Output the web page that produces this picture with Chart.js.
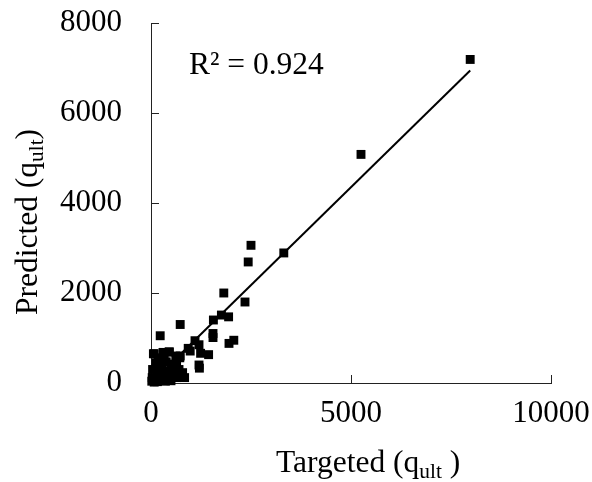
<!DOCTYPE html>
<html>
<head>
<meta charset="utf-8">
<script src="https://cdn.jsdelivr.net/npm/chart.js@4.4.0/dist/chart.umd.min.js"></script>
<style>
  html, body { margin: 0; padding: 0; background: #fff; }
  #wrap { width: 592px; height: 482px; }
</style>
</head>
<body>
<div id="wrap"><canvas id="fitChart" width="592" height="482"></canvas></div>
<script>
// measured vs model bearing capacity
const targeted = [
    7980, 5250, 3320, 2500, 2430, 2350, 1820, 1760, 1560, 1940,
    730, 230, 1100, 1550, 1550, 1950, 2070, 1200, 930, 980,
    1240, 1440, 1200, 1210, 730, 460, 80, 330, 790,
    60, 180, 300, 450, 620, 720, 120, 250, 380, 520,
    640, 40, 150, 280, 420, 560, 700, 30, 100, 200,
    320, 450, 580, 650, 20, 80, 160, 260, 360, 500, 840
];
const predicted = [
    7190, 5080, 2890, 3060, 2690, 1800, 2000, 1510, 1400, 1470,
    1300, 1050, 940, 1100, 1010, 880, 950, 850, 770, 710,
    660, 630, 400, 330, 600, 690, 650, 580, 230,
    650, 560, 680, 690, 600, 560, 450, 400, 470, 420,
    380, 300, 250, 300, 250, 280, 300, 120, 80, 150,
    120, 100, 150, 120, 40, 20, 30, 60, 40, 50, 120
];
const xTicks = [0, 5000, 10000];
const yTicks = [0, 2000, 4000, 6000, 8000];

// linear fit through the data
const fitSlope = 0.87;
const fitIntercept = 0;
const rSquared = 0.924;

const SERIF = '"Liberation Serif", "Times New Roman", serif';
const TITLE_SIZE = 31.5;

const points = targeted.map((t, i) => ({ x: t, y: predicted[i] }));
const fitX = [Math.min(...targeted), Math.max(...targeted)];
const fitLine = fitX.map(x => ({ x, y: fitSlope * x + fitIntercept }));

// draws text pieces left to right, lowering and shrinking the subscripts;
// x is the left edge, or the middle when centred is true
function drawSubText(ctx, parts, x, baseY, size, centred) {
    const font = s => `${s}px ${SERIF}`;
    let total = 0;
    parts.forEach(p => {
        ctx.font = font(p.sub ? size * 0.68 : size);
        p.w = ctx.measureText(p.t).width;
        total += p.w;
    });
    if (centred) x -= total / 2;
    ctx.textAlign = 'left';
    ctx.textBaseline = 'alphabetic';
    parts.forEach(p => {
        ctx.font = font(p.sub ? size * 0.68 : size);
        ctx.fillText(p.t, x, baseY + (p.sub ? 6 : 0));
        x += p.w;
    });
}

const decorations = {
    id: 'decorations',
    afterDraw(chart) {
        const { ctx, chartArea: a, scales: { x, y } } = chart;
        ctx.save();

        // tick marks point inward
        ctx.strokeStyle = '#222';
        ctx.lineWidth = 1;
        ctx.beginPath();
        xTicks.slice(1).forEach(v => {
            const px = Math.round(x.getPixelForValue(v)) + 0.5;
            ctx.moveTo(px, a.bottom);
            ctx.lineTo(px, a.bottom - 8);
        });
        yTicks.slice(1).forEach(v => {
            const py = Math.round(y.getPixelForValue(v)) + 0.5;
            ctx.moveTo(a.left, py);
            ctx.lineTo(a.left + 8, py);
        });
        ctx.stroke();

        ctx.fillStyle = '#000';
        drawSubText(ctx, [
            { t: 'Targeted (q' }, { t: 'ult', sub: true }, { t: ' )' }
        ], 276, 472, TITLE_SIZE, false);

        ctx.save();
        ctx.translate(37, (a.top + a.bottom) / 2 + 19);
        ctx.rotate(-Math.PI / 2);
        drawSubText(ctx, [
            { t: 'Predicted (q' }, { t: 'ult', sub: true }, { t: ')' }
        ], 0, 0, TITLE_SIZE, true);
        ctx.restore();

        ctx.font = `${TITLE_SIZE}px ${SERIF}`;
        ctx.textAlign = 'left';
        ctx.textBaseline = 'alphabetic';
        ctx.fillText(`R\u00B2 = ${rSquared}`, a.left + 38, 74);

        ctx.restore();
    }
};

Chart.defaults.font.family = SERIF;
Chart.defaults.font.size = 31;
Chart.defaults.color = '#000';

// the label gap comes from an invisible tick length, since ticks.padding
// also widens the outer padding of the chart
const hiddenTicks = len => ({
    drawOnChartArea: false,
    drawTicks: true,
    tickLength: len,
    tickColor: 'rgba(0,0,0,0)'
});

new Chart(document.getElementById('fitChart').getContext('2d'), {
    type: 'scatter',
    data: {
        datasets: [
            {
                data: points,
                pointStyle: 'rect',
                pointRadius: 6.3,
                backgroundColor: '#000',
                borderWidth: 0,
                clip: false,
                order: 1
            },
            {
                type: 'line',
                data: fitLine,
                showLine: true,
                borderColor: '#000',
                borderWidth: 2,
                pointRadius: 0,
                fill: false,
                order: 0
            }
        ]
    },
    options: {
        responsive: false,
        animation: false,
        events: [],
        layout: { padding: { top: 23, right: 41, bottom: 0, left: 0 } },
        plugins: { legend: { display: false }, tooltip: { enabled: false } },
        scales: {
            x: {
                type: 'linear',
                min: 0, max: 10000,
                afterBuildTicks: s => { s.ticks = xTicks.map(v => ({ value: v })); },
                afterFit: s => { s.height = 99; },
                ticks: { padding: 0, maxRotation: 0, callback: v => String(v) },
                grid: hiddenTicks(12),
                border: { color: '#222', width: 1 }
            },
            y: {
                type: 'linear',
                min: 0, max: 8000,
                afterBuildTicks: s => { s.ticks = yTicks.map(v => ({ value: v })); },
                afterFit: s => { s.width = 151; },
                ticks: { padding: 0, callback: v => String(v) },
                grid: hiddenTicks(29),
                border: { color: '#222', width: 1 }
            }
        }
    },
    plugins: [decorations]
});
</script>
</body>
</html>
